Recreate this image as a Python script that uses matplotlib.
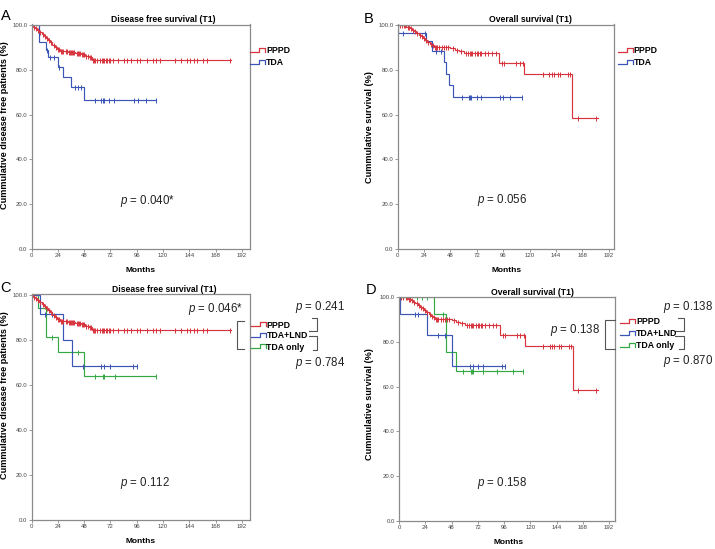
import numpy as np
import matplotlib
matplotlib.use('Agg')
import matplotlib.pyplot as plt
from matplotlib.lines import Line2D

plt.rcParams['font.family'] = ['Liberation Sans', 'DejaVu Sans']
plt.rcParams['mathtext.fontset'] = 'custom'
plt.rcParams['mathtext.it'] = 'Liberation Sans:italic'
plt.rcParams['mathtext.rm'] = 'Liberation Sans'

# ---------------- data (months, survival %) ----------------
# PPPD, disease free survival (panels A and C)
pppd_dfs_t = [1, 3, 5, 7, 9, 11, 13, 15, 17, 19, 21, 23, 26, 33, 40, 45, 49, 52, 55]
pppd_dfs_s = [99.3, 98.6, 97.9, 96.9, 96.0, 95.2, 94.4, 93.5, 92.5, 91.3, 90.1, 89.2,
              88.6, 88.2, 87.7, 87.1, 86.4, 85.6, 84.6]
pppd_dfs_cens = [0.5, 2, 4, 6, 8, 10, 12, 14, 16, 18, 20, 22, 24, 25, 27, 28, 29, 31, 32,
                 34, 35, 36, 37, 38, 39, 41, 42, 43, 44, 46, 47, 48, 50, 51, 53, 54, 56,
                 57, 58, 60, 62, 64, 65, 66, 68, 69, 71, 72, 74, 79, 84, 87, 91, 96, 99,
                 105, 111, 114, 117, 131, 136, 142, 145, 148, 151, 157, 160, 181]
pppd_dfs_end = 182

# PPPD, overall survival (panels B and D)
pppd_os_t = [8, 11, 13, 15, 17, 19, 21, 23, 25, 27, 29, 31, 33, 48, 52, 56, 60, 92, 115, 159]
pppd_os_s = [99.3, 98.6, 97.9, 97.2, 96.4, 95.7, 95.0, 94.2, 93.4, 92.6, 91.8, 91.0,
             90.3, 89.6, 89.0, 88.3, 87.6, 83.2, 78.2, 58.5]
pppd_os_cens = [2, 4, 6, 7, 9, 10, 12, 14, 16, 18, 20, 22, 24, 26, 28, 30, 32, 34, 35, 36,
                38, 40, 42, 44, 46, 50, 54, 58, 62, 64, 66, 67, 68, 70, 72, 73, 75, 76,
                79, 82, 86, 89, 95, 97, 108, 111, 114, 132, 138, 140, 142, 146, 148,
                155, 157, 164, 180]
pppd_os_end = 182

# TDA, disease free survival (panel A)
tda_dfs_t = [7, 13, 15, 24, 29, 36, 48]
tda_dfs_s = [92.6, 89.1, 85.6, 81.4, 77.0, 72.5, 66.6]
tda_dfs_cens = [14, 17, 20, 25, 40, 42.5, 45, 57.6, 63.6, 65, 66.5, 71, 75.6, 93.3, 97,
                104.6, 113.3]
tda_dfs_end = 113.3

# TDA, overall survival (panel B)
tda_os_t = [0.7, 26, 31, 42, 44, 46.5, 50]
tda_os_s = [96.6, 93.0, 88.3, 83.4, 78.4, 73.2, 67.9]
tda_os_cens = [5, 24.5, 35, 39, 58.2, 64.9, 65.8, 66.7, 71.9, 75.8, 93.1, 96.1, 102.2, 112.8]
tda_os_end = 113.5

# TDA+LND / TDA only, disease free survival (panel C)
lnd_dfs_t = [7.5, 29, 36.5]
lnd_dfs_s = [91.5, 79.8, 68.3]
lnd_dfs_cens = [12, 18.3, 47, 63.3, 66.4, 71.6, 92.3, 96.5]
lnd_dfs_end = 96.5

only_dfs_t = [6, 13.5, 24, 48]
only_dfs_s = [94.4, 81.2, 74.6, 63.9]
only_dfs_cens = [18.3, 37, 42.6, 57.8, 65.3, 66.3, 76, 113.3]
only_dfs_end = 113.3

# TDA+LND / TDA only, overall survival (panel D)
lnd_os_t = [1, 25.3, 48.7]
lnd_os_s = [92.4, 83.0, 69.3]
lnd_os_cens = [14.6, 17.7, 36, 42, 64.9, 67.9, 72.5, 77.1, 93.9, 97]
lnd_os_end = 97

only_os_t = [32.3, 42.7, 51.8]
only_os_s = [92.4, 75.6, 67.1]
only_os_cens = [16.2, 20.7, 25.3, 40.5, 58.8, 65.8, 67, 67.9, 77.1, 89.3, 104.5, 113.6]
only_os_end = 113.6

month_ticks = [0, 24, 48, 72, 96, 120, 144, 168, 192]
surv_ticks = [0, 20, 40, 60, 80, 100]

titles = ["Disease free survival (T1)", "Overall survival (T1)",
          "Disease free survival (T1)", "Overall survival (T1)"]
ylabels = ["Cummulative disease free patients (%)", "Cummulative survival (%)",
           "Cummulative disease free patients (%)", "Cummulative survival (%)"]
panel_letters = ["A", "B", "C", "D"]

RED = '#d7343d'
BLUE = '#3a55b5'
GREEN = '#35a845'
SPINE = '#8a8a8a'

W, H = 715, 549
fig = plt.figure(figsize=(W / 100, H / 100), dpi=100)
fig.patch.set_facecolor('white')


def fx(px):
    return px / W


def fy(py):
    return 1 - py / H


def make_axes(l, t, r, b, xmax):
    ax = fig.add_axes([fx(l), fy(b), (r - l) / W, (b - t) / H])
    ax.set_xlim(0, xmax)
    ax.set_ylim(0, 100.3)
    ax.set_xticks(month_ticks)
    ax.set_yticks(surv_ticks)
    ax.set_yticklabels([f"{v:.1f}" for v in surv_ticks])
    ax.tick_params(axis='both', length=2, width=0.6, color=SPINE, labelsize=4.3,
                   labelcolor='#444444', pad=1, direction='out')
    for sp in ax.spines.values():
        sp.set_color(SPINE)
        sp.set_linewidth(0.9)
    return ax


def km(ax, ev_t, ev_s, cens, end, color):
    ev_t = np.asarray(ev_t, float)
    ev_s = np.asarray(ev_s, float)
    t = np.concatenate([[0], ev_t, [end]])
    s = np.concatenate([[100], ev_s, [ev_s[-1]]])
    ax.step(t, s, where='post', color=color, lw=0.85, solid_joinstyle='miter')
    s_all = np.concatenate([[100], ev_s])
    idx = np.searchsorted(ev_t, np.asarray(cens, float), side='right')
    ax.plot(cens, s_all[idx], ls='none', marker='|', ms=3.6, mew=0.7, color=color)


def legend_item(x0, yc, color, label):
    xs = [x0, x0 + 9, x0 + 9, x0 + 15, x0 + 15]
    ys = [yc + 1.3, yc + 1.3, yc - 2.7, yc - 2.7, yc + 1.3]
    fig.add_artist(Line2D([fx(x) for x in xs], [fy(y) for y in ys], color=color, lw=0.9))
    fig.text(fx(x0 + 16), fy(yc), label, fontsize=6.3, fontweight='bold',
             va='center', ha='left')


def poly(pts, color='#555555'):
    fig.add_artist(Line2D([fx(p[0]) for p in pts], [fy(p[1]) for p in pts],
                          color=color, lw=0.8))


def ptext(x, y, val):
    fig.text(fx(x), fy(y), r"$p$ = " + val, fontsize=8.3, ha='left', va='center',
             color='#222222')


# axes rectangles (pixel: left, top, right, bottom)
axA = make_axes(31.7, 24.5, 250, 249, 199.5)
axB = make_axes(397.7, 24.5, 614, 249, 196.8)
axC = make_axes(31.7, 294.3, 250, 520, 199.5)
axD = make_axes(399, 296.5, 615, 520.7, 197.4)

km(axA, tda_dfs_t, tda_dfs_s, tda_dfs_cens, tda_dfs_end, BLUE)
km(axA, pppd_dfs_t, pppd_dfs_s, pppd_dfs_cens, pppd_dfs_end, RED)

km(axB, tda_os_t, tda_os_s, tda_os_cens, tda_os_end, BLUE)
km(axB, pppd_os_t, pppd_os_s, pppd_os_cens, pppd_os_end, RED)

km(axC, only_dfs_t, only_dfs_s, only_dfs_cens, only_dfs_end, GREEN)
km(axC, lnd_dfs_t, lnd_dfs_s, lnd_dfs_cens, lnd_dfs_end, BLUE)
km(axC, pppd_dfs_t, pppd_dfs_s, pppd_dfs_cens, pppd_dfs_end, RED)

km(axD, only_os_t, only_os_s, only_os_cens, only_os_end, GREEN)
km(axD, lnd_os_t, lnd_os_s, lnd_os_cens, lnd_os_end, BLUE)
km(axD, pppd_os_t, pppd_os_s, pppd_os_cens, pppd_os_end, RED)

# titles
for (xc, yc), ttl in zip([(163.5, 19.3), (530, 19.3), (163.8, 289), (532.5, 292.3)], titles):
    fig.text(fx(xc), fy(yc), ttl, fontsize=6.2, fontweight='bold', ha='center', va='center')

# x labels
for (xc, yc) in [(140.5, 270.7), (507, 270.7), (141, 541.7), (509, 542.7)]:
    fig.text(fx(xc), fy(yc), "Months", fontsize=6.0, fontweight='bold', ha='center',
             va='center')

# y labels
for (xc, yc), lab in zip([(4.5, 125), (369, 127), (4.5, 395), (370, 404)], ylabels):
    fig.text(fx(xc), fy(yc), lab, fontsize=6.6, fontweight='bold', ha='center',
             va='center', rotation=90)

# panel letters
for (xc, yc), let in zip([(5.5, 15.5), (369, 18.7), (5.5, 288.5), (371, 290.5)], panel_letters):
    fig.text(fx(xc), fy(yc), let, fontsize=10.5, ha='center', va='center')

# legends
legend_item(250, 50.7, RED, "PPPD")
legend_item(250, 62.3, BLUE, "TDA")
legend_item(617.5, 50.7, RED, "PPPD")
legend_item(617.5, 62.3, BLUE, "TDA")

legend_item(250.5, 325, RED, "PPPD")
legend_item(250.5, 336, BLUE, "TDA+LND")
legend_item(250.5, 347, GREEN, "TDA only")
legend_item(620, 321.7, RED, "PPPD")
legend_item(620, 333.3, BLUE, "TDA+LND")
legend_item(620, 345.5, GREEN, "TDA only")

# brackets panel C
poly([(243.5, 321), (237.3, 321), (237.3, 349.3), (243.5, 349.3)])
poly([(311.5, 318.3), (316.7, 318.3), (316.7, 331), (308.5, 331)])
poly([(308.5, 336), (316.7, 336), (316.7, 350), (312.5, 350)])
# brackets panel D
poly([(615, 320), (605, 320), (605, 349.3), (615, 349.3)])
poly([(678.3, 318.3), (684, 318.3), (684, 331), (675, 331)])
poly([(675, 336), (684, 336), (684, 349.3), (679, 349.3)])

# p-values
ptext(120, 201, "0.040*")
ptext(476.7, 200, "0.056")
ptext(188.3, 309.3, "0.046*")
ptext(295, 306.7, "0.241")
ptext(295, 363.3, "0.784")
ptext(120, 483.3, "0.112")
ptext(663, 306.7, "0.138")
ptext(550, 330, "0.138")
ptext(663, 360.7, "0.870")
ptext(476.7, 483.3, "0.158")

fig.savefig('out.png', dpi=100, facecolor='white')
